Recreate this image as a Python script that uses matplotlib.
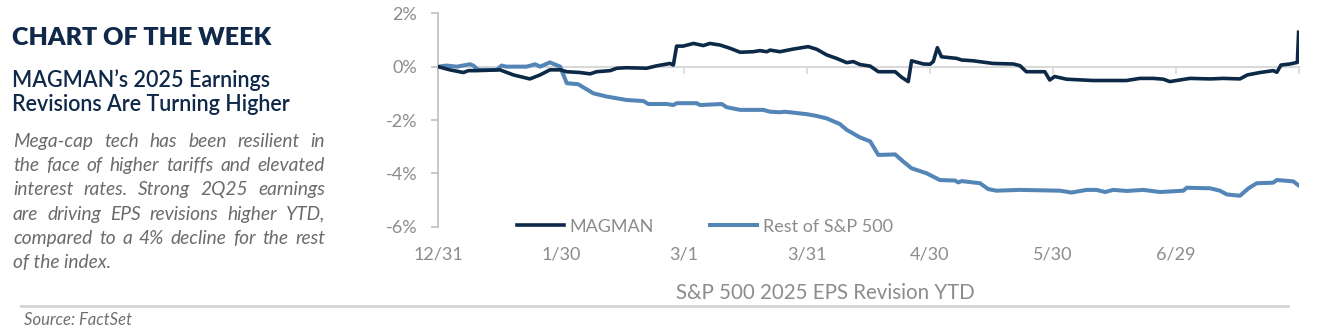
import matplotlib
matplotlib.use("Agg")
import matplotlib.pyplot as plt
from matplotlib.lines import Line2D

plt.rcParams["font.family"] = ["Lato", "DejaVu Sans"]

# x = days since 12/31/2024, y = % EPS revision YTD
magman_days = [0, 2.9, 6.2, 7.4, 9.4, 15.1, 18.4, 22.4, 24.9, 27.3, 29.8, 31.4,
               34.6, 37.1, 38.7, 42, 43.6, 46, 50.9, 53.3, 56.6, 57.4, 58.2, 59.8,
               62.3, 64.7, 66.3, 68.8, 71.2, 73.7, 76.9, 78.5, 80.2, 81, 83.4, 86.7,
               90.3, 92.4, 94.8, 97.2, 99.7, 101.3, 102.9, 105.4, 107.4, 111.5, 113.1,
               114.7, 115.5, 118.4, 120, 120.8, 121.8, 122.8, 126.5, 127.7, 130.5,
               135.4, 140.3, 141.9, 143.5, 148, 149.2, 150.4, 153.3, 159.8, 167.9,
               171.2, 174.5, 176.9, 178.5, 183.4, 188.3, 191.5, 195.6, 197.4, 200.5,
               203.7, 204.6, 205.6, 207.8, 209.6, 209.9]
magman_vals = [0, -0.12, -0.22, -0.15, -0.15, -0.12, -0.31, -0.46, -0.31, -0.12, -0.12, -0.19,
               -0.22, -0.27, -0.19, -0.15, -0.06, -0.04, -0.06, 0.03, 0.12, 0.06, 0.77, 0.77,
               0.87, 0.79, 0.87, 0.81, 0.69, 0.54, 0.56, 0.60, 0.56, 0.62, 0.56, 0.66,
               0.75, 0.65, 0.44, 0.31, 0.15, 0.19, 0.08, 0.02, -0.19, -0.19, -0.40,
               -0.56, 0.22, 0.10, 0.09, 0.19, 0.71, 0.37, 0.31, 0.25, 0.22,
               0.12, 0.10, 0.04, -0.19, -0.19, -0.50, -0.37, -0.47, -0.52, -0.52,
               -0.44, -0.44, -0.47, -0.56, -0.44, -0.46, -0.44, -0.46, -0.31, -0.22,
               -0.15, -0.21, 0.06, 0.10, 0.16, 1.29]

rest_days = [0, 2.1, 4.6, 7.8, 8.6, 9.8, 14.3, 15.5, 16.7, 21.6, 23.7, 24.9, 27.3,
             29.8, 31.4, 34.2, 37.9, 41.1, 46, 50.1, 51.3, 55.8, 57.4, 58.2, 63.1,
             63.9, 69.2, 70.4, 73.7, 79.3, 81, 83.4, 84.6, 89.9, 92.4, 94.8, 98,
             99.7, 102.9, 105.4, 107.4, 111.5, 113.5, 115.5, 119.2, 122.4, 126.1,
             126.9, 127.7, 132.2, 134.2, 136.2, 141.9, 151.7, 154.5, 158.2, 160.6,
             162.7, 164.7, 168, 172, 176.1, 181.8, 182.6, 188.3, 190.7, 192.4, 195.6,
             197.7, 199.7, 203.7, 204.6, 208.6, 209.8]
rest_vals = [0, 0.04, 0, 0.09, 0.04, -0.12, -0.12, 0.04, 0, 0, 0.09, 0, 0.16,
             0, -0.62, -0.66, -1.00, -1.12, -1.25, -1.29, -1.40, -1.40, -1.44, -1.37, -1.37,
             -1.44, -1.40, -1.52, -1.62, -1.62, -1.69, -1.71, -1.69, -1.78, -1.85, -1.94, -2.15,
             -2.37, -2.65, -2.80, -3.31, -3.29, -3.56, -3.81, -4.00, -4.25, -4.27,
             -4.34, -4.29, -4.37, -4.59, -4.65, -4.62, -4.65, -4.72, -4.62, -4.62,
             -4.70, -4.62, -4.66, -4.62, -4.70, -4.65, -4.54, -4.56, -4.65, -4.79, -4.84,
             -4.56, -4.37, -4.35, -4.25, -4.30, -4.44]

tick_days = [0, 30, 60, 90, 120, 150, 180, 210]
tick_labels = ["12/31", "1/30", "3/1", "3/31", "4/30", "5/30", "6/29", ""]
y_ticks = [-6, -4, -2, 0, 2]

title = "CHART OF THE WEEK"
subtitle = ["MAGMAN\u2019s 2025 Earnings", "Revisions Are Turning Higher"]
body = ["Mega-cap tech has been resilient in",
        "the face of higher tariffs and elevated",
        "interest rates. Strong 2Q25 earnings",
        "are driving EPS revisions higher YTD,",
        "compared to a 4% decline for the rest",
        "of the index."]

NAVY = "#0c2a47"
STEEL = "#5386b6"
GRAY = "#8c8c8c"

W, H = 1321, 328
fig = plt.figure(figsize=(W / 100, H / 100), dpi=100)

ax = fig.add_axes([438 / W, 1 - 226.7 / H, 861 / W, 213.4 / H])
ax.plot(magman_days, magman_vals, color=NAVY, lw=2.6, label="MAGMAN", zorder=3)
ax.plot(rest_days, rest_vals, color=STEEL, lw=2.9, label="Rest of S&P 500", zorder=2)
ax.set_xlim(0, 210)
ax.set_ylim(-6, 2)

for s in ("top", "right"):
    ax.spines[s].set_visible(False)
ax.spines["left"].set_color("#bfbfbf")
ax.spines["left"].set_linewidth(1.2)
ax.spines["bottom"].set_position(("data", 0))
ax.spines["bottom"].set_color("#d9d9d9")
ax.spines["bottom"].set_linewidth(1.5)
ax.spines["bottom"].set_zorder(1)
ax.set_axisbelow(True)

ax.set_yticks(y_ticks, [f"{v}%" for v in y_ticks])
ax.tick_params(axis="y", length=5, width=1.2, color="#bfbfbf", pad=10,
               labelsize=13, labelcolor=GRAY)
ax.set_xticks(tick_days)
ax.tick_params(axis="x", length=5, width=1.2, color="#d9d9d9", labelbottom=False)

sec = ax.secondary_xaxis("bottom")
sec.set_xticks(tick_days, tick_labels)
sec.tick_params(length=0, pad=14, labelsize=13, labelcolor=GRAY)
sec.spines["bottom"].set_visible(False)

ax.legend(loc="center", bbox_to_anchor=((705 - 438) / 861, 0.0), ncol=2,
          frameon=False, fontsize=13, labelcolor=GRAY, handlelength=2.6,
          handletextpad=0.33, columnspacing=3.1, borderpad=0)

fig.text(825 / W, 1 - 293 / H, "S&P 500 2025 EPS Revision YTD", ha="center",
         va="center", fontsize=14.8, color=GRAY)

# left panel text
fig.text(12 / W, 1 - 45 / H, title, fontsize=18, weight="heavy", color="#10294a",
         va="baseline")
for i, line in enumerate(subtitle):
    fig.text(12 / W, 1 - (87.3 + 24 * i) / H, line, fontsize=15.5, weight="semibold",
             color="#10294a", va="baseline")


def justify(lines, x0, x1, y0, dy, **kw):
    r = fig.canvas.get_renderer()
    for i, line in enumerate(lines):
        y = 1 - (y0 + dy * i) / H
        if i == len(lines) - 1:
            fig.text(x0 / W, y, line, va="baseline", **kw)
            continue
        words = line.split()
        arts = [fig.text(x0 / W, y, w, va="baseline", **kw) for w in words]
        widths = [a.get_window_extent(r).width for a in arts]
        gap = (x1 - x0 - sum(widths)) / (len(words) - 1)
        x = x0
        for a, w in zip(arts, widths):
            a.set_x(x / W)
            x += w + gap


justify(body, 13, 325, 146.7, 24.3, fontsize=13.8, style="italic", color="#6b6b6b")

fig.add_artist(Line2D([21 / W, 1288 / W], [1 - 306 / H] * 2, color="#d3d3d3", lw=2))
fig.text(24 / W, 1 - 325 / H, "Source: FactSet", fontsize=12, style="italic",
         color="#6f6f6f", va="baseline")

fig.savefig("out.png", dpi=100)
